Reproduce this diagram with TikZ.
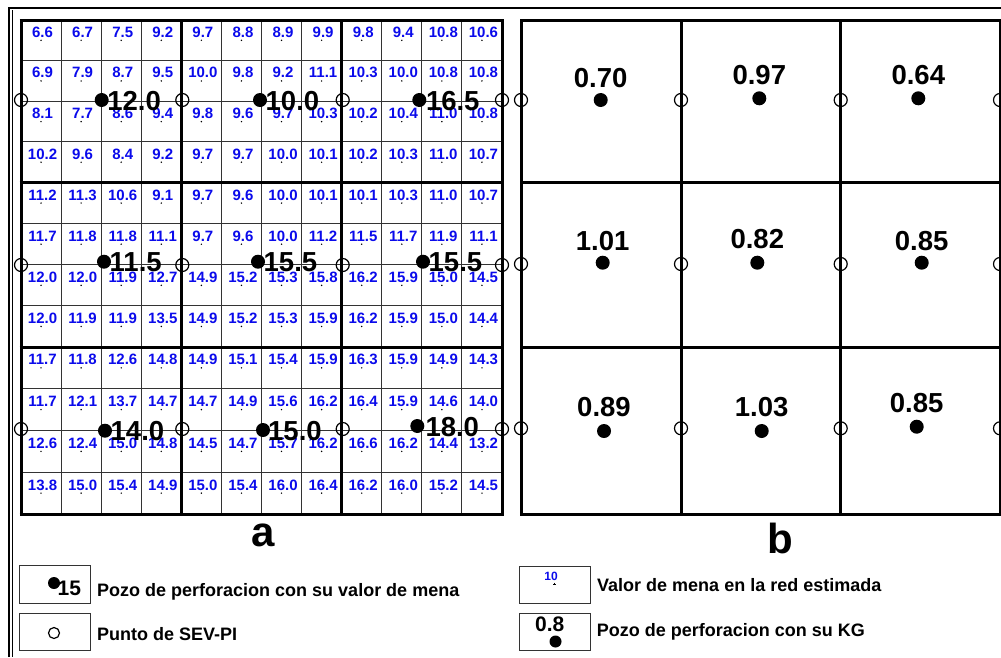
\documentclass[tikz,border=0pt]{standalone}
\usepackage{fontspec}
\setmainfont{Liberation Sans}
\definecolor{valblue}{RGB}{10,10,235}
\begin{document}
\begin{tikzpicture}[x=1pt,y=-1pt,
  minor/.style={line width=1pt, black!80},
  major/.style={line width=3pt, black},
  bline/.style={line width=3pt, black},
  frameline/.style={line width=2pt, black},
  blueval/.style={text=valblue, font=\bfseries\fontsize{15}{15}\selectfont, inner sep=0pt, anchor=base},
  hole/.style={circle, fill=black, inner sep=0pt, minimum size=14pt},
  holelab/.style={font=\bfseries\fontsize{27.5}{27.5}\selectfont, inner sep=0pt, anchor=base west},
  kglab/.style={font=\bfseries\fontsize{27.5}{27.5}\selectfont, inner sep=0pt, anchor=base},
  sev/.style={circle, draw=black, line width=1.2pt, inner sep=0pt, minimum size=13pt},
  legbox/.style={draw=black!80, line width=1pt, minimum width=71pt, minimum height=37.5pt, inner sep=0pt},
  legtext/.style={font=\bfseries\fontsize{18}{18}\selectfont, anchor=base west, inner sep=0pt},
  panellab/.style={font=\bfseries\fontsize{42}{42}\selectfont, anchor=base, inner sep=0pt},
]
\useasboundingbox (0,0) rectangle (1001,657);
% outer frame
\draw[frameline] (9,657) -- (9,8) -- (1003,8);
\draw[line width=1.3pt] (12.5,10) -- (12.5,657);

% ---------- panel a grid ----------
\def\rowlines{{20,60.6,101.3,141.9,182.5,223.6,264.75,305.9,347,388.75,430.5,472.25,514}}
\foreach \i in {1,2,3,5,6,7,9,10,11}{
  \draw[minor] ({21+\i*40.083},20) -- ({21+\i*40.083},514);
  \pgfmathsetmacro\yy{\rowlines[\i]}
  \draw[minor] (21,\yy) -- (504,\yy);
}
\foreach \i in {0,4,8,12}{
  \draw[major] ({21+\i*40.083},20) -- ({21+\i*40.083},514);
  \pgfmathsetmacro\yy{\rowlines[\i]}
  \draw[major] (19.5,\yy) -- (503.5,\yy);
}

% blue estimated values
\foreach \row [count=\r] in {
 {6.6,6.7,7.5,9.2,9.7,8.8,8.9,9.9,9.8,9.4,10.8,10.6},
 {6.9,7.9,8.7,9.5,10.0,9.8,9.2,11.1,10.3,10.0,10.8,10.8},
 {8.1,7.7,8.6,9.4,9.8,9.6,9.7,10.3,10.2,10.4,11.0,10.8},
 {10.2,9.6,8.4,9.2,9.7,9.7,10.0,10.1,10.2,10.3,11.0,10.7},
 {11.2,11.3,10.6,9.1,9.7,9.6,10.0,10.1,10.1,10.3,11.0,10.7},
 {11.7,11.8,11.8,11.1,9.7,9.6,10.0,11.2,11.5,11.7,11.9,11.1},
 {12.0,12.0,11.9,12.7,14.9,15.2,15.3,15.8,16.2,15.9,15.0,14.5},
 {12.0,11.9,11.9,13.5,14.9,15.2,15.3,15.9,16.2,15.9,15.0,14.4},
 {11.7,11.8,12.6,14.8,14.9,15.1,15.4,15.9,16.3,15.9,14.9,14.3},
 {11.7,12.1,13.7,14.7,14.7,14.9,15.6,16.2,16.4,15.9,14.6,14.0},
 {12.6,12.4,15.0,14.8,14.5,14.7,15.7,16.2,16.6,16.2,14.4,13.2},
 {13.8,15.0,15.4,14.9,15.0,15.4,16.0,16.4,16.2,16.0,15.2,14.5}}{
  \foreach \v [count=\c] in \row {
    \pgfmathsetmacro\ya{\rowlines[\r-1]}
    \pgfmathsetmacro\yb{\rowlines[\r]}
    \coordinate (g\r-\c) at ({21+(\c-0.5)*40.083},{(\ya+\yb)/2});
    \fill (g\r-\c) circle (0.8);
    \node[blueval] (v\r-\c) at ({21+(\c-0.5)*40.083+1.5},{(\ya+\yb)/2-3}) {\v};
  }
}

% drill holes with ore value (panel a)
\foreach \x/\y/\t/\dx [count=\k] in {
  101.7/100/12.0/5.5, 260/100/10.0/5.5, 419.3/100/16.5/6.5,
  104/261.7/11.5/5.5, 258/261.7/15.5/5.5, 423/261.7/15.5/5.5,
  105/430.7/14.0/5.5, 263/430/15.0/5, 417.3/426/18.0/8}{
  \node[hole] (h\k) at (\x,\y) {};
  \node[holelab] (hl\k) at (\x+\dx,\y+10) {\t};
}

% SEV-PI points panel a
\foreach \y [count=\r] in {100,265,429}{
  \foreach \x [count=\c] in {21,182.3,342.7,502}{
    \node[sev] (sa\r-\c) at (\x,\y) {};
  }
}

% ---------- panel b grid ----------
\draw[bline] (521,20) rectangle (1000,514);
\foreach \x in {681,840.7}{ \draw[bline] (\x,20) -- (\x,514); }
\foreach \y in {182.5,347.5}{ \draw[bline] (521,\y) -- (1000,\y); }

% SEV-PI points panel b
\foreach \y [count=\r] in {100,264,428.3}{
  \foreach \x [count=\c] in {521,681,840.7,1000}{
    \node[sev] (sb\r-\c) at (\x,\y) {};
  }
}

% drill holes with KG (panel b)
\foreach \x/\y/\by/\t [count=\k] in {
  600.7/100/87.3/0.70, 759.3/98.3/84/0.97, 918.3/98.3/84/0.64,
  602.7/262.7/250/1.01, 757.3/262.7/248.5/0.82, 921.7/262.7/250/0.85,
  604/431/416.7/0.89, 761.7/431/416.7/1.03, 916.7/426.7/412.7/0.85}{
  \node[hole] (k\k) at (\x,\y) {};
  \node[kglab] (kl\k) at (\x,\by) {\t};
}

% panel labels
\node[panellab] (la) at (263.3,546) {a};
\node[panellab] (lb) at (780.8,553.3) {b};

% ---------- legend ----------
\node[legbox] (lg1) at (54.5,584.5) {};
\node[legbox] (lg2) at (54.5,632) {};
\node[legbox] (lg3) at (554.5,585) {};
\node[legbox] (lg4) at (554.5,632) {};

\node[circle, fill=black, inner sep=0pt, minimum size=12pt] (lg1dot) at (54,583) {};
\node[font=\bfseries\fontsize{21}{21}\selectfont, anchor=base west, inner sep=0pt] (lg1num) at (57.5,595) {15};
\node[sev, minimum size=11pt] (lg2c) at (54,633) {};
\node[text=valblue, font=\bfseries\fontsize{12}{12}\selectfont, anchor=base, inner sep=0pt] (lg3num) at (551,580.5) {10};
\draw[line width=0.6pt] (553,584) -- (555.6,584) (554.3,582.7) -- (554.3,585.3);
\node[font=\bfseries\fontsize{21}{21}\selectfont, anchor=base, inner sep=0pt] (lg4num) at (549.7,631.7) {0.8};
\node[circle, fill=black, inner sep=0pt, minimum size=12pt] (lg4dot) at (555.5,641.5) {};

\node[legtext] (t1) at (97,596) {Pozo de perforacion con su valor de mena};
\node[legtext] (t2) at (97,640) {Punto de SEV-PI};
\node[legtext] (t3) at (597,591) {Valor de mena en la red estimada};
\node[legtext] (t4) at (596.7,636) {Pozo de perforacion con su KG};
\end{tikzpicture}
\end{document}
